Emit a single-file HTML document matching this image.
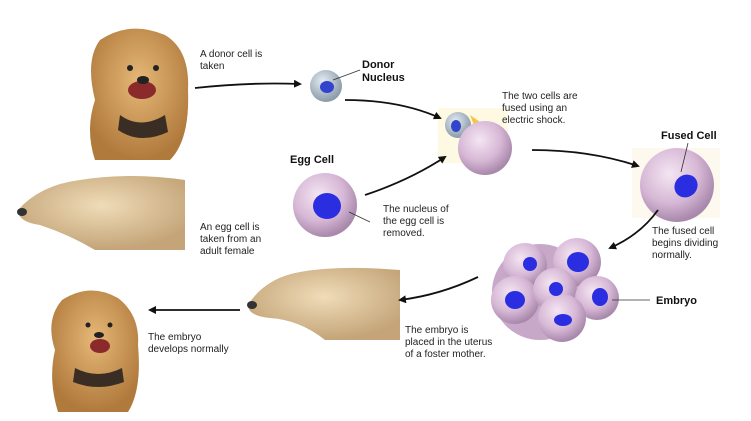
<!DOCTYPE html>
<html><head><meta charset="utf-8"><style>
body{margin:0;background:#fff}
svg{display:block}
text{font-family:"Liberation Sans",Arial,sans-serif;font-size:10px;fill:#222}
.b{font-weight:bold;font-size:11px;fill:#111}
</style></head><body>
<svg width="751" height="421" viewBox="0 0 751 421" xmlns="http://www.w3.org/2000/svg">
<defs>
<radialGradient id="cell" cx="40%" cy="35%" r="65%"><stop offset="0" stop-color="#f4e6f2"/><stop offset="0.6" stop-color="#d7b8d6"/><stop offset="1" stop-color="#a888ab"/></radialGradient>
<radialGradient id="gcell" cx="40%" cy="35%" r="65%"><stop offset="0" stop-color="#e4ecf2"/><stop offset="1" stop-color="#8a9aa8"/></radialGradient>
<radialGradient id="gold" cx="50%" cy="40%" r="60%"><stop offset="0" stop-color="#e6b878"/><stop offset="1" stop-color="#b07a3c"/></radialGradient>
<radialGradient id="cream" cx="50%" cy="40%" r="60%"><stop offset="0" stop-color="#efdcb8"/><stop offset="1" stop-color="#c4a478"/></radialGradient>
<marker id="ar" markerWidth="8" markerHeight="8" refX="6" refY="4" orient="auto" markerUnits="userSpaceOnUse"><path d="M0,0 L8,4 L0,8 z" fill="#111"/></marker>
</defs>
<!-- Dog 1 -->
<path d="M100,40 Q130,20 165,35 Q190,50 188,90 Q190,140 170,160 L95,160 Q85,130 95,100 Q85,60 100,40z" fill="url(#gold)"/>
<path d="M120,115 Q140,130 165,115 L168,132 Q140,145 118,130z" fill="#3a2e24"/>
<ellipse cx="142" cy="90" rx="14" ry="9" fill="#8a2a2a"/>
<circle cx="130" cy="68" r="3" fill="#222"/><circle cx="156" cy="68" r="3" fill="#222"/><ellipse cx="143" cy="80" rx="6" ry="4" fill="#222"/>
<!-- Dog 2 -->
<path d="M18,210 Q40,185 80,180 Q130,172 185,180 L185,250 L95,250 Q70,235 40,225 Q18,222 18,210z" fill="url(#cream)"/>
<ellipse cx="22" cy="212" rx="5" ry="4" fill="#333"/>
<!-- Dog 3 -->
<path d="M248,305 Q265,278 300,272 Q340,265 400,270 L400,340 L325,340 Q300,320 270,318 Q248,316 248,305z" fill="url(#cream)"/>
<ellipse cx="252" cy="305" rx="5" ry="4" fill="#333"/>
<!-- Dog 4 -->
<path d="M62,300 Q90,282 118,298 Q140,315 138,345 Q142,390 128,412 L58,412 Q48,380 55,350 Q45,320 62,300z" fill="url(#gold)"/>
<path d="M75,368 Q98,380 122,368 L124,382 Q98,392 73,382z" fill="#3a2e24"/>
<ellipse cx="100" cy="346" rx="10" ry="7" fill="#8a2a2a"/>
<circle cx="88" cy="325" r="2.5" fill="#222"/><circle cx="110" cy="325" r="2.5" fill="#222"/><ellipse cx="99" cy="335" rx="5" ry="3" fill="#222"/>

<!-- donor cell -->
<circle cx="326" cy="86" r="16" fill="url(#gcell)"/><ellipse cx="327" cy="87" rx="7" ry="6" fill="#3344cc"/>
<!-- egg cell -->
<circle cx="325" cy="205" r="32" fill="url(#cell)"/><ellipse cx="327" cy="206" rx="14" ry="13" fill="#2a2ee0"/>
<!-- fusion -->
<rect x="438" y="108" width="70" height="55" fill="#fdf9e2"/>
<polygon points="470,115 480,122 474,126 488,132 470,140 476,130" fill="#f7c540"/>
<circle cx="458" cy="125" r="13" fill="url(#gcell)"/><ellipse cx="456" cy="126" rx="5" ry="6" fill="#3344cc"/>
<circle cx="485" cy="148" r="27" fill="url(#cell)"/>
<!-- fused cell -->
<rect x="632" y="148" width="88" height="70" fill="#fdf9ef"/>
<circle cx="677" cy="185" r="37" fill="url(#cell)"/><ellipse cx="686" cy="186" rx="12" ry="11" fill="#2a2ee0" transform="rotate(-40 686 186)"/>
<line x1="688" y1="143" x2="681" y2="172" stroke="#333" stroke-width="0.8"/>
<!-- embryo -->
<g>
<circle cx="540" cy="292" r="48" fill="#c8a8c8"/>
<circle cx="525" cy="265" r="22" fill="url(#cell)"/><circle cx="577" cy="262" r="24" fill="url(#cell)"/>
<circle cx="515" cy="300" r="24" fill="url(#cell)"/><circle cx="555" cy="290" r="22" fill="url(#cell)"/>
<circle cx="597" cy="298" r="22" fill="url(#cell)"/><circle cx="562" cy="318" r="24" fill="url(#cell)"/>
<ellipse cx="530" cy="264" rx="7" ry="7" fill="#2a2ee0"/><ellipse cx="578" cy="262" rx="11" ry="10" fill="#2a2ee0"/>
<ellipse cx="515" cy="300" rx="10" ry="9" fill="#2a2ee0"/><ellipse cx="556" cy="289" rx="7" ry="7" fill="#2a2ee0"/>
<ellipse cx="600" cy="297" rx="8" ry="9" fill="#2a2ee0"/><ellipse cx="563" cy="320" rx="9" ry="6" fill="#2a2ee0"/>
</g>
<line x1="612" y1="300" x2="650" y2="300" stroke="#333" stroke-width="0.8"/>
<line x1="349" y1="212" x2="370" y2="222" stroke="#333" stroke-width="0.8"/>
<line x1="333" y1="80" x2="360" y2="70" stroke="#333" stroke-width="0.8"/>

<!-- arrows -->
<g fill="none" stroke="#111" stroke-width="1.8" marker-end="url(#ar)">
<path d="M195,88 Q250,82 300,84"/>
<path d="M345,100 Q400,100 440,118"/>
<path d="M365,195 Q410,180 445,157"/>
<path d="M532,150 Q590,150 638,166"/>
<path d="M658,210 Q640,235 610,248"/>
<path d="M478,277 Q440,295 400,300"/>
<path d="M240,310 Q200,310 150,310"/>
</g>

<text x="200" y="57">A donor cell is</text><text x="200" y="69">taken</text>
<text x="362" y="68" class="b">Donor</text><text x="362" y="81" class="b">Nucleus</text>
<text x="502" y="99">The two cells are</text><text x="502" y="111">fused using an</text><text x="502" y="123">electric shock.</text>
<text x="661" y="139" class="b">Fused Cell</text>
<text x="290" y="163" class="b">Egg Cell</text>
<text x="383" y="212">The nucleus of</text><text x="383" y="224">the egg cell is</text><text x="383" y="236">removed.</text>
<text x="200" y="230">An egg cell is</text><text x="200" y="242">taken from an</text><text x="200" y="254">adult female</text>
<text x="652" y="234">The fused cell</text><text x="652" y="246">begins dividing</text><text x="652" y="258">normally.</text>
<text x="656" y="304" class="b">Embryo</text>
<text x="405" y="333">The embryo is</text><text x="405" y="345">placed in the uterus</text><text x="405" y="357">of a foster mother.</text>
<text x="148" y="340">The embryo</text><text x="148" y="352">develops normally</text>
</svg>
</body></html>
